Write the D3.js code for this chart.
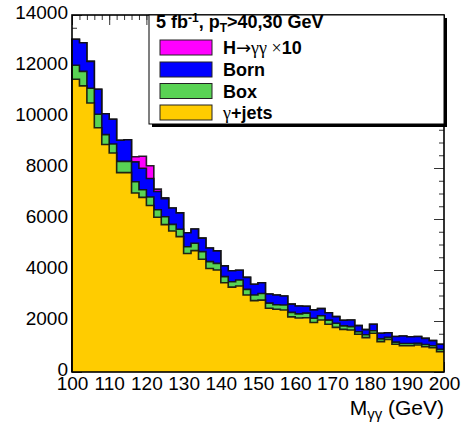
<!DOCTYPE html>
<html><head><meta charset="utf-8">
<script src="https://cdn.jsdelivr.net/npm/d3@7"></script>
<style>
body{margin:0;background:#fff;}
svg{display:block;font-family:"Liberation Sans",Arial,Helvetica,sans-serif;}
</style></head>
<body><svg id="c" width="463" height="423"></svg>
<script>
// bin lower edges (GeV), 2 GeV bins
const massLow = [100,102,104,106,108,110,112,114,116,118,120,122,124,126,128,130,132,134,136,138,
140,142,144,146,148,150,152,154,156,158,160,162,164,166,168,170,172,174,176,178,
180,182,184,186,188,190,192,194,196,198];
const massHigh = 200;
// series (events / bin)
const gjets = [11480,11220,10550,9580,8920,8590,7820,7820,7020,6850,
6530,6070,5780,5530,5310,4650,4760,4420,4060,4000,
3500,3330,3370,3020,2800,2820,2500,2460,2430,2160,
2120,2130,1940,2040,1870,1750,1670,1650,1480,1350,
1520,1190,1280,1090,1030,1030,1060,990,950,800];
const box = [550,570,580,530,390,350,440,440,440,300,
330,290,310,260,290,260,290,300,270,260,
240,210,240,220,220,260,200,180,200,180,
160,180,165,165,165,160,140,130,100,110,
100,110,80,80,90,90,70,90,80,90];
const born = [1020,1120,1050,980,820,970,830,850,780,840,
730,720,710,640,640,550,560,530,530,490,
420,430,380,470,420,420,360,380,350,320,
310,270,330,280,290,260,220,260,240,200,
250,220,180,220,290,260,260,240,200,200];
const higgs10 = [0,0,0,0,0,0,0,0,200,470,
500,90,30,0,0,0,0,0,0,0,
0,0,0,0,0,0,0,0,0,0,
0,0,0,0,0,0,0,0,0,0,
0,0,0,0,0,0,0,0,0,0];
const seriesNames = ["γ+jets","Box","Born","Higgs"];
const seriesColors = ["#ffcc00","#59d354","#0000ff","#ff00ff"];
const xTickLabels = [100,110,120,130,140,150,160,170,180,190,200];
const yTickLabels = [0,2000,4000,6000,8000,10000,12000,14000];

const svg = d3.select("#c");
const L=72,R=444,T=15,B=372;
const x = d3.scaleLinear().domain([100,200]).range([L,R]);
const y = d3.scaleLinear().domain([0,14000]).range([B,T]);

// inward ticks (drawn beneath histograms)
const xMinor = d3.range(100,201,2), yMinor = d3.range(0,14001,500);
function tickAxis(axisFn, scale, vals, size, tx, ty){
  const g = svg.append("g").attr("transform",`translate(${tx},${ty})`)
    .call(axisFn(scale).tickValues(vals).tickSize(size).tickFormat(""));
  g.select(".domain").remove();
  g.selectAll("line").attr("stroke","#333").attr("stroke-width",1);
}
tickAxis(d3.axisBottom,x,xMinor,5,0,T);
tickAxis(d3.axisBottom,x,xTickLabels,10,0,T);
tickAxis(d3.axisTop,x,xMinor,5,0,B);
tickAxis(d3.axisTop,x,xTickLabels,10,0,B);
tickAxis(d3.axisRight,y,yMinor,5,L,0);
tickAxis(d3.axisRight,y,yTickLabels,10,L,0);
tickAxis(d3.axisLeft,y,yMinor,5,R,0);
tickAxis(d3.axisLeft,y,yTickLabels,10,R,0);

// stacked cumulative
const stackData = massLow.map((m,i)=>({m, "γ+jets":gjets[i], "Box":box[i], "Born":born[i], "Higgs":higgs10[i]}));
const stack = d3.stack().keys(seriesNames)(stackData);
for(let s=stack.length-1;s>=0;s--){
  const layer = stack[s];
  const pts = layer.map((d,i)=>({m:massLow[i], v:d[1]}));
  pts.push({m:massHigh, v:layer[layer.length-1][1]});
  const area = d3.area().curve(d3.curveStepAfter).x(d=>x(d.m)).y0(y(0)).y1(d=>y(d.v));
  svg.append("path").datum(pts).attr("d",area).attr("fill",seriesColors[s]);
  const lp = [{m:100,v:0},{m:100,v:pts[0].v}].concat(pts);
  svg.append("path").datum(lp)
    .attr("d",d3.line().x(d=>x(d.m)).y(d=>y(d.v)).curve(d3.curveStepAfter))
    .attr("fill","none").attr("stroke","#111").attr("stroke-width",1.6)
    .attr("stroke-opacity",0.9);
}

// frame
svg.append("rect").attr("x",L).attr("y",T).attr("width",R-L).attr("height",B-T)
  .attr("fill","none").attr("stroke","#000").attr("stroke-width",1.6);

// labels
const gx = svg.append("g").attr("transform",`translate(0,${B})`)
  .call(d3.axisBottom(x).tickValues(xTickLabels).tickSize(0).tickPadding(5).tickFormat(d3.format("d")));
gx.select(".domain").remove();
gx.selectAll("text").attr("font-size",19).attr("font-family","Liberation Sans, Arial").attr("fill","#000");
const gy = svg.append("g").attr("transform",`translate(${L},0)`)
  .call(d3.axisLeft(y).tickValues(yTickLabels).tickSize(0).tickPadding(4).tickFormat(d3.format("d")));
gy.select(".domain").remove();
gy.selectAll("text").attr("font-size",19).attr("dy","0.2em").attr("font-family","Liberation Sans, Arial").attr("fill","#000");

// x title
const xt = svg.append("text").attr("x",R).attr("y",415).attr("text-anchor","end")
  .attr("font-size",21).attr("fill","#000");
xt.append("tspan").text("M");
xt.append("tspan").attr("font-size",15).attr("dy",4).text("γγ");
xt.append("tspan").attr("dy",-4).text(" (GeV)");

// legend
const lg = svg.append("g");
lg.append("rect").attr("x",152).attr("y",18).attr("width",295).attr("height",109).attr("fill","#000");
lg.append("rect").attr("x",149).attr("y",15).attr("width",295).attr("height",109)
  .attr("fill","#fff").attr("stroke","#000").attr("stroke-width",1);
const hd = lg.append("text").attr("x",156).attr("y",28).attr("font-size",18).attr("font-weight","bold").attr("fill","#000");
hd.append("tspan").text("5 fb");
hd.append("tspan").attr("font-size",12).attr("dy",-6).text("-1");
hd.append("tspan").attr("dy",6).text(", p");
hd.append("tspan").attr("font-size",12).attr("dy",4).text("T");
hd.append("tspan").attr("dy",-4).text(">40,30 GeV");
const entries = [
  {c:seriesColors[3], y:40, parts:[["H","bold",""],["→","normal","DejaVu Sans"],["γγ ×","normal","Liberation Serif"],["10","bold",""]]},
  {c:seriesColors[2], y:62, parts:[["Born","bold",""]]},
  {c:seriesColors[1], y:83.5, parts:[["Box","bold",""]]},
  {c:seriesColors[0], y:105, parts:[["γ","normal","Liberation Serif"],["+jets","bold",""]]}
];
entries.forEach(e=>{
  lg.append("rect").attr("x",160).attr("y",e.y).attr("width",52).attr("height",15)
    .attr("fill",e.c).attr("stroke","#222").attr("stroke-width",1);
  const t = lg.append("text").attr("x",223).attr("y",e.y+14).attr("font-size",18).attr("fill","#000");
  e.parts.forEach(p=>{
    const ts = t.append("tspan").attr("font-weight",p[1]).text(p[0]);
    if(p[2]) ts.attr("font-family",p[2]);
  });
});
</script></body></html>
